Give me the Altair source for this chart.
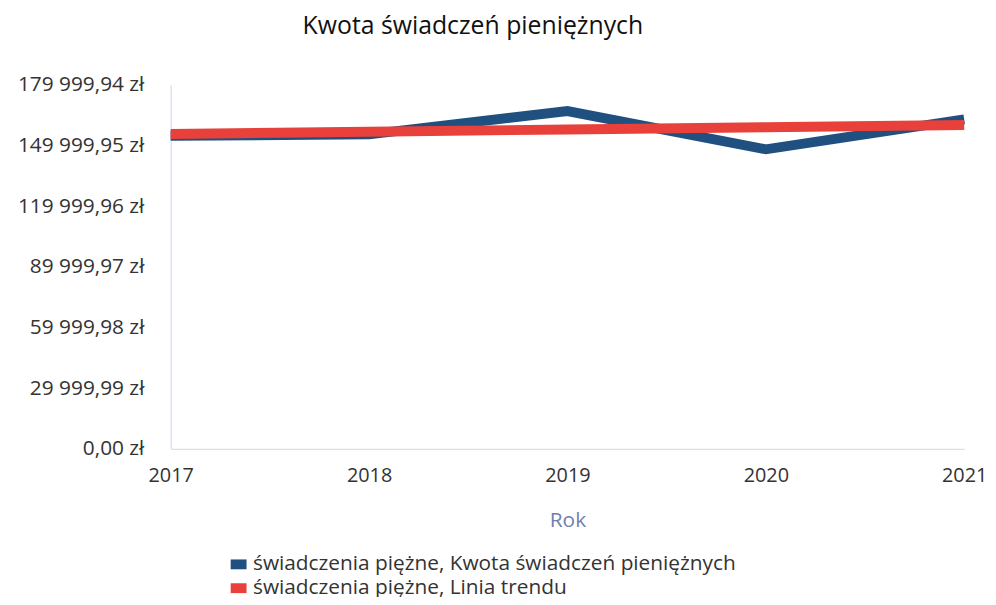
import altair as alt
import pandas as pd

years = [2017, 2018, 2019, 2020, 2021]
kwota = [154750, 155500, 167000, 148100, 162900]
trend = [155700, 156800, 157900, 159000, 160100]

series_names = [
    "świadczenia piężne, Kwota świadczeń pieniężnych",
    "świadczenia piężne, Linia trendu",
]
series_colors = ["#1f5080", "#e8403a"]

y_tick_values = [0, 29999.99, 59999.98, 89999.97, 119999.96, 149999.95, 179999.94]
y_tick_labels = ["0,00 zł", "29 999,99 zł", "59 999,98 zł", "89 999,97 zł",
                 "119 999,96 zł", "149 999,95 zł", "179 999,94 zł"]
x_tick_values = years

rows = []
for y, v in zip(years, kwota):
    rows.append({"Rok": y, "value": v, "series": series_names[0]})
for y, v in zip(years, trend):
    rows.append({"Rok": y, "value": v, "series": series_names[1]})
df = pd.DataFrame(rows)

label_expr = ""
for v, lab in zip(y_tick_values, y_tick_labels):
    label_expr += f"abs(datum.value - {v}) < 1 ? '{lab}' : "
label_expr += "''"

FONT = "Open Sans"
axis_color = "#cdd7ee"
color_scale = alt.Scale(domain=series_names, range=series_colors)

legend = alt.Legend(
    title=None,
    orient="none",
    legendX=58,
    legendY=473,
    direction="vertical",
    symbolType="M-1,-0.62H1V0.62H-1Z",
    symbolSize=256,
    symbolStrokeWidth=0,
    symbolOpacity=1,
    labelFont=FONT,
    labelFontSize=21,
    labelColor="#333333",
    rowPadding=2,
    labelOffset=4,
    labelLimit=700,
)

x = alt.X(
    "Rok:Q",
    scale=alt.Scale(domain=[2017, 2021], nice=False, zero=False),
    axis=alt.Axis(
        values=x_tick_values,
        format="d",
        title="Rok",
        titleFont=FONT,
        titleFontSize=21,
        titleFontWeight="normal",
        titleColor="#6f7fae",
        titlePadding=24,
        labelFont=FONT,
        labelFontSize=20,
        labelColor="#333333",
        labelPadding=17,
        ticks=False,
        grid=False,
        domainColor=axis_color,
        labelFlush=False,
    ),
)

y = alt.Y(
    "value:Q",
    scale=alt.Scale(domain=[0, 179999.94], nice=False),
    axis=alt.Axis(
        values=y_tick_values,
        labelExpr=label_expr,
        title=None,
        labelFont=FONT,
        labelFontSize=21,
        labelColor="#333333",
        labelPadding=27,
        ticks=False,
        grid=False,
        domainColor=axis_color,
    ),
)

base = alt.Chart(df)
blue = base.transform_filter(alt.datum.series == series_names[0]).mark_line(
    strokeWidth=10
).encode(x=x, y=y, color=alt.Color("series:N", scale=color_scale, legend=None))
red = base.transform_filter(alt.datum.series == series_names[1]).mark_line(
    strokeWidth=10
).encode(x=x, y=y, color=alt.Color("series:N", scale=color_scale, legend=None))
legend_layer = base.mark_point(filled=True, size=1, opacity=0).encode(
    x=x, y=y, color=alt.Color("series:N", scale=color_scale, legend=legend)
)

chart = (
    alt.layer(legend_layer, blue, red)
    .properties(
        width=800,
        height=367,
        autosize=alt.AutoSizeParams(type="none"),
        padding={"left": 164, "top": 75, "right": 24, "bottom": 147},
        title=alt.TitleParams(
            "Kwota świadczeń pieniężnych",
            anchor="start",
            frame="group",
            dx=133,
            offset=15,
            baseline="alphabetic",
            font=FONT,
            fontSize=25,
            fontWeight="normal",
            color="#111111",
        ),
    )
    .configure_view(stroke=None)
)

chart.save("out.html", embed_options={"renderer": "svg", "actions": False})
